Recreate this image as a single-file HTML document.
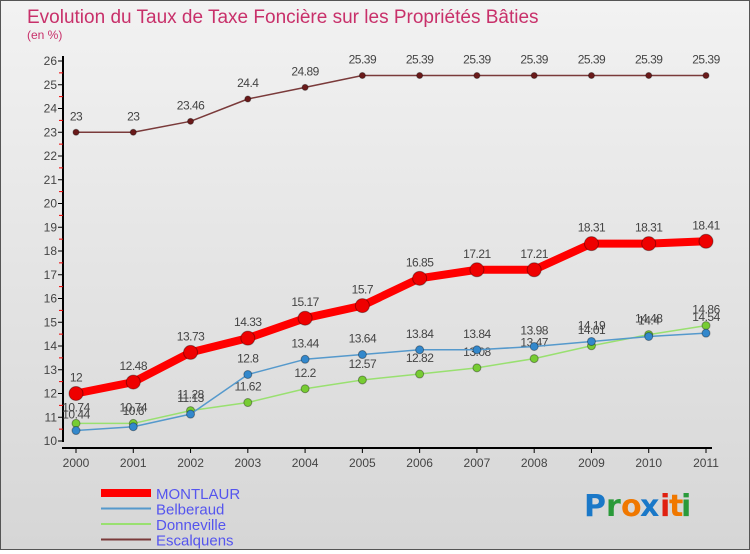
<!DOCTYPE html>
<html><head><meta charset="utf-8"><style>
body{margin:0;width:750px;height:550px;overflow:hidden;font-family:"Liberation Sans",sans-serif}
#wrap{position:relative;width:748px;height:548px;border:1px solid #555;background:linear-gradient(#f2f2f2,#d6d6d6)}
</style></head><body>
<div id="wrap">
<svg id="chart" width="748" height="548" xmlns="http://www.w3.org/2000/svg">
<text x="26" y="22" font-size="19" fill="#c8306a">Evolution du Taux de Taxe Foncière sur les Propriétés Bâties</text>
<text x="26" y="38" font-size="12" fill="#c8306a">(en %)</text>
<g id="axes"></g><g id="series"></g><g id="legend"></g>
<g font-size="30" font-family="'DejaVu Sans',sans-serif" font-weight="bold">
<text x="583" y="515" fill="#1a78c8">P</text><text x="605" y="515" fill="#2a9a3a">r</text><text x="620" y="515" fill="#f07800">o</text><text x="639" y="515" fill="#1a78c8">x</text><text x="659" y="515" fill="#e02010">i</text><text x="668" y="515" fill="#f07800">t</text><text x="680" y="515" fill="#2a9a3a">i</text>
</g>
</svg>
</div>
<script>
const years=[2000,2001,2002,2003,2004,2005,2006,2007,2008,2009,2010,2011];
const montlaur=[12,12.48,13.73,14.33,15.17,15.7,16.85,17.21,17.21,18.31,18.31,18.41];
const belberaud=[10.44,10.6,11.13,12.8,13.44,13.64,13.84,13.84,13.98,14.19,14.4,14.54];
const donneville=[10.74,10.74,11.28,11.62,12.2,12.57,12.82,13.08,13.47,14.01,14.48,14.86];
const escalquens=[23,23,23.46,24.4,24.89,25.39,25.39,25.39,25.39,25.39,25.39,25.39];
const yTicks=[10,11,12,13,14,15,16,17,18,19,20,21,22,23,24,25,26];
const NS="http://www.w3.org/2000/svg";
const xs=i=>75+i*(630/11);
const ys=v=>440-(v-10)*23.75;
function mk(tag,attrs,parent){const e=document.createElementNS(NS,tag);for(const k in attrs)e.setAttribute(k,attrs[k]);parent.appendChild(e);return e;}
const axes=document.getElementById('axes');
let yl=mk('line',{x1:62,y1:55,x2:62,y2:441,stroke:'#000','stroke-width':2},axes);


let xl=mk('line',{x1:61,y1:447,x2:711,y2:447,stroke:'#000','stroke-width':2},axes);


yTicks.forEach(v=>{
 mk('line',{x1:57,y1:ys(v),x2:62,y2:ys(v),stroke:'#000'},axes);
 if(v<26)mk('line',{x1:58,y1:ys(v+0.5),x2:62,y2:ys(v+0.5),stroke:'#e00'},axes);
 const t=mk('text',{x:56,y:ys(v)+4,'font-size':12,fill:'#444','text-anchor':'end'},axes);
 t.textContent=v;
 
 
});
years.forEach((y,i)=>{
 mk('line',{x1:xs(i),y1:447,x2:xs(i),y2:452,stroke:'#000'},axes);
 const t=mk('text',{x:xs(i),y:466,'font-size':12,fill:'#444','text-anchor':'middle'},axes);
 t.textContent=y;
 
 
});
const S=document.getElementById('series');
function draw(data,color,w,r,name,dot){
 const g=mk('g',{},S);
 
 
 mk('polyline',{points:data.map((v,i)=>xs(i)+','+ys(v)).join(' '),fill:'none',stroke:color,'stroke-width':w,'stroke-linejoin':'round'},g);
 data.forEach((v,i)=>{
  const c=mk('circle',{cx:xs(i),cy:ys(v),r:r,fill:dot,stroke:'rgba(0,0,0,0.35)','stroke-width':1},g);
  
  
  const t=mk('text',{x:xs(i),y:ys(v)-12,'font-size':12,fill:'#444','text-anchor':'middle','letter-spacing':'-0.5'},g);
  t.textContent=v;
  
  
 });
}
draw(escalquens,'#7a3a3a',1.5,3,'escalquens','#6a1a1a');
draw(donneville,'#99e070',1.5,4,'donneville','#77cc33');
draw(belberaud,'#5599cc',1.5,4,'belberaud','#3388cc');
draw(montlaur,'#ff0000',8,7,'montlaur','#ee0000');
const L=document.getElementById('legend');
const leg=[['MONTLAUR','#ff0000',8],['Belberaud','#5599cc',2],['Donneville','#99e070',2],['Escalquens','#7a3a3a',2]];
leg.forEach((d,i)=>{
 const y=492+i*15.5;
 const g=mk('g',{},L);
 
 
 mk('line',{x1:100,y1:y,x2:150,y2:y,stroke:d[1],'stroke-width':d[2]},g);
 const t=mk('text',{x:155,y:y+6,'font-size':15,fill:'#5555ee'},g);
 t.textContent=d[0];
});
</script>
</body></html>
